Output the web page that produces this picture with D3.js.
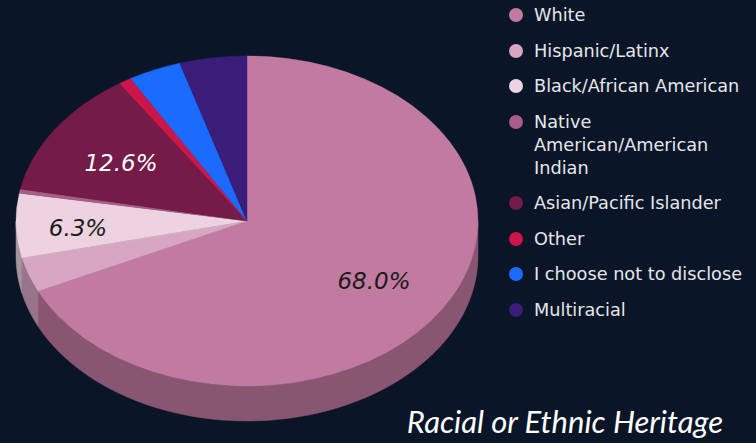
<!DOCTYPE html>
<html><head><meta charset="utf-8">
<script src="https://cdn.jsdelivr.net/npm/d3@7"></script>
<style>html,body{margin:0;padding:0;background:#0a1628;}svg{display:block;}</style>
</head><body>
<svg id="c" width="756" height="443"></svg>
<script>
const categories = ["White","Hispanic/Latinx","Black/African American","Native American/American Indian","Asian/Pacific Islander","Other","I choose not to disclose","Multiracial"];
const legendLines = [["White"],["Hispanic/Latinx"],["Black/African American"],["Native","American/American","Indian"],["Asian/Pacific Islander"],["Other"],["I choose not to disclose"],["Multiracial"]];
const values = [68.0, 3.4, 6.3, 0.4, 12.6, 0.9, 3.7, 4.7];
const colors = ["#c27ba0","#d7a6c3","#ecd3df","#a85c86","#741b47","#cc1548","#1c6bff","#3a1d78"];
const labelShown = ["68.0%", null, "6.3%", null, "12.6%", null, null, null];
const labelColors = ["#1a1a1a", null, "#1a1a1a", null, "#ffffff", null, null, null];
const title = "Racial or Ethnic Heritage";

const svg = d3.select("#c");
svg.append("rect").attr("width",756).attr("height",443).attr("fill","#0a1628");

const cx = 247, cy = 221, rx = 231, ry = 165, depth = 35;
const pieData = d3.pie().sort(null).value(d => d)(values);
const px = a => cx + rx*Math.sin(a);
const py = a => cy - ry*Math.cos(a);

// side walls (front half: angles PI/2 .. 3PI/2)
const sideG = svg.append("g");
pieData.forEach((p,i) => {
  const a0 = Math.max(p.startAngle, Math.PI/2), a1 = Math.min(p.endAngle, 3*Math.PI/2);
  if (a1 <= a0) return;
  const n = 60, pts = [];
  for (let k=0;k<=n;k++){ const a=a0+(a1-a0)*k/n; pts.push([px(a),py(a)]); }
  for (let k=n;k>=0;k--){ const a=a0+(a1-a0)*k/n; pts.push([px(a),py(a)+depth]); }
  const sc = d3.color(colors[i]).darker(1.0);
  sideG.append("path").attr("d", d3.line()(pts)+"Z")
    .attr("fill", sc).attr("stroke", sc).attr("stroke-width",0.5);
});

// top face
const arcGen = d3.arc().innerRadius(0).outerRadius(rx);
const topG = svg.append("g").attr("transform",`translate(${cx},${cy}) scale(1,${ry/rx})`);
topG.selectAll("path").data(pieData).join("path")
  .attr("d", arcGen).attr("fill",(d,i)=>colors[i])
  .attr("stroke",(d,i)=>colors[i]).attr("stroke-width",0.5);

// labels
const labelPos = [[374,281],[0,0],[78,228],[0,0],[121,163]];
pieData.forEach((p,i)=>{
  if(!labelShown[i]) return;
  svg.append("text").attr("x", labelPos[i][0]).attr("y", labelPos[i][1])
    .attr("text-anchor","middle").attr("dominant-baseline","central")
    .attr("font-family","DejaVu Sans, Verdana, sans-serif").attr("font-style","italic")
    .attr("font-size",23).attr("fill",labelColors[i]).text(labelShown[i]);
});

// legend
const legY = [15,51,86,122,203,239,274,310];
const leg = svg.append("g");
legendLines.forEach((lines,i)=>{
  leg.append("circle").attr("cx",516).attr("cy",legY[i]).attr("r",7).attr("fill",colors[i]);
  lines.forEach((t,j)=>{
    leg.append("text").attr("x",534).attr("y",legY[i]+j*23).attr("dominant-baseline","central")
      .attr("font-family","DejaVu Sans, Verdana, sans-serif").attr("font-size",17.7)
      .attr("fill","#e6e6ea").text(t);
  });
});

svg.append("text").attr("x",723).attr("y",433).attr("text-anchor","end")
  .attr("font-family","Lato, Open Sans, sans-serif").attr("font-style","italic")
  .attr("font-size",31).attr("fill","#ffffff").text(title);
</script>
</body></html>
